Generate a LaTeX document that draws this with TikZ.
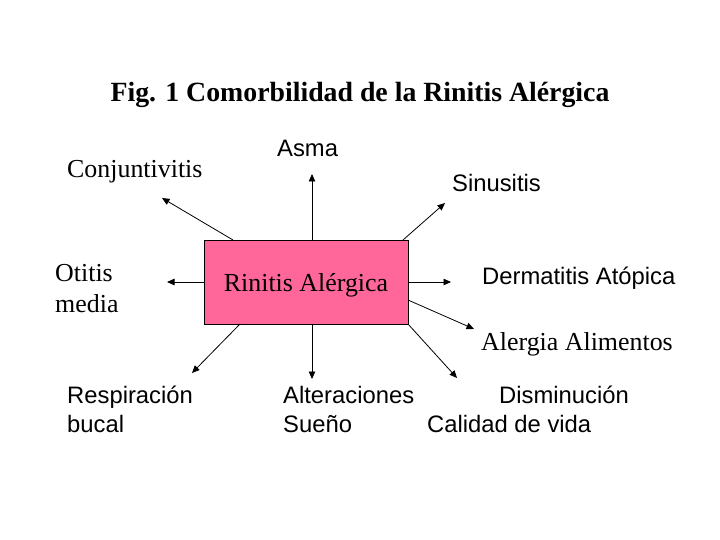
\documentclass[tikz,border=0pt]{standalone}
\usepackage{fontspec}
\setmainfont{Liberation Serif}
\setsansfont{Liberation Sans}
\usetikzlibrary{arrows.meta}
\definecolor{boxpink}{HTML}{FF6699}
\tikzset{
  serlbl/.style={anchor=base west, inner sep=0pt, font=\fontsize{25.9}{30}\selectfont},
  sanlbl/.style={anchor=base west, inner sep=0pt, font=\sffamily\fontsize{23.8}{28}\selectfont},
  arr/.style={draw=black, line width=0.8pt, -{Triangle[length=7.5pt,width=6.5pt]}},
  centralbox/.style={draw=black, line width=0.9pt, fill=boxpink, minimum width=204pt, minimum height=84pt,
    inner sep=0pt, font=\fontsize{25.9}{30}\selectfont, text height=21pt, text depth=2pt}
}
\begin{document}
\begin{tikzpicture}[x=1pt,y=-1pt]
\useasboundingbox (0,0) rectangle (720,540);
\fill[white] (0,0) rectangle (720,540);
% title
\node[anchor=base, inner sep=0pt, font=\fontsize{27.8}{32}\selectfont\bfseries] (title) at (360,102) {Fig. 1 Comorbilidad de la Rinitis Alérgica};
% central box
\node[centralbox] (rin) at (306,282) {Rinitis Alérgica};
% labels
\node[sanlbl] (asma) at (277,157) {Asma};
\node[serlbl] (conj) at (67,178) {Conjuntivitis};
\node[sanlbl] (sinu) at (452,192) {Sinusitis};
\node[serlbl] (oti1) at (55,281) {Otitis};
\node[serlbl] (oti2) at (55,312) {media};
\node[sanlbl] (derm) at (482,284) {Dermatitis Atópica};
\node[serlbl] (aler) at (481,350) {Alergia Alimentos};
\node[sanlbl] (resp1) at (67,403) {Respiración};
\node[sanlbl] (resp2) at (67,432) {bucal};
\node[sanlbl] (alt1) at (283,403) {Alteraciones};
\node[sanlbl] (alt2) at (283,432) {Sueño};
\node[sanlbl] (dis1) at (499,403) {Disminución};
\node[sanlbl] (dis2) at (427,432) {Calidad de vida};
% start points on box border
\coordinate (sUp) at (312,240);
\coordinate (sUL) at (233,240);
\coordinate (sUR) at (403,240);
\coordinate (sL) at (204,282);
\coordinate (sR) at (408,282);
\coordinate (sRL) at (408,300);
\coordinate (sDL) at (240,324);
\coordinate (sD) at (312,324);
\coordinate (sDR) at (408,324);
% arrow ends
\coordinate (eUp) at (312,174);
\coordinate (eUL) at (162,198);
\coordinate (eUR) at (445,203);
\coordinate (eL) at (167,282);
\coordinate (eR) at (451,282);
\coordinate (eRL) at (474,329);
\coordinate (eDL) at (192,373);
\coordinate (eD) at (312,379);
\coordinate (eDR) at (457,378);
\draw[arr] (sUp) -- (eUp);
\draw[arr] (sUL) -- (eUL);
\draw[arr] (sUR) -- (eUR);
\draw[arr] (sL) -- (eL);
\draw[arr] (sR) -- (eR);
\draw[arr] (sRL) -- (eRL);
\draw[arr] (sDL) -- (eDL);
\draw[arr] (sD) -- (eD);
\draw[arr] (sDR) -- (eDR);
\end{tikzpicture}
\end{document}
